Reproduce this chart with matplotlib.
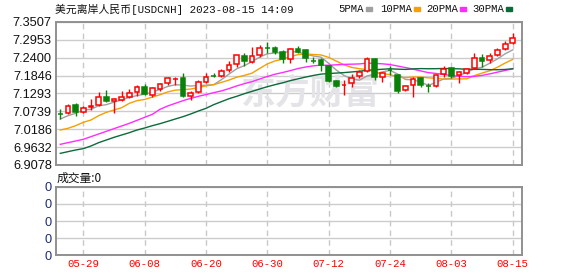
import pandas as pd
import matplotlib
matplotlib.use('Agg')
import matplotlib.pyplot as plt
from matplotlib.patches import Rectangle

plt.rcParams['font.family'] = ['Liberation Sans', 'Noto Sans CJK SC']

# 交易日 2023-05-24 ~ 2023-08-15
dates = pd.bdate_range('2023-05-24', '2023-08-15')

open_ = [7.0650, 7.0678, 7.0926, 7.0709, 7.0864, 7.0936, 7.1194, 7.1070, 7.1091, 7.1194,
         7.1329, 7.1483, 7.1246, 7.1421, 7.1607, 7.1745, 7.1762, 7.1225, 7.1349, 7.1659,
         7.1838, 7.1834, 7.2020, 7.2196, 7.2454, 7.2278, 7.2485, 7.2695, 7.2691, 7.2588,
         7.2351, 7.2660, 7.2640, 7.2312, 7.2330, 7.2144, 7.1680, 7.1552, 7.1628, 7.1834,
         7.1989, 7.2351, 7.1793, 7.2023, 7.1865, 7.1401, 7.1556, 7.1762, 7.1528, 7.1525,
         7.1896, 7.2072, 7.1865, 7.1917, 7.2072, 7.2381, 7.2330, 7.2485, 7.2660, 7.2846]
high = [7.0802, 7.0967, 7.0988, 7.0905, 7.1112, 7.1339, 7.1401, 7.1163, 7.1380, 7.1432,
        7.1545, 7.1587, 7.1483, 7.1607, 7.1814, 7.1814, 7.1938, 7.1380, 7.1710, 7.1938,
        7.1917, 7.2041, 7.2299, 7.2485, 7.2536, 7.2722, 7.2794, 7.2887, 7.2763, 7.2640,
        7.2712, 7.2763, 7.2660, 7.2433, 7.2381, 7.2175, 7.1710, 7.1710, 7.1896, 7.2020,
        7.2412, 7.2381, 7.1969, 7.2144, 7.1896, 7.1556, 7.1793, 7.1793, 7.1607, 7.1896,
        7.2144, 7.2123, 7.2000, 7.2072, 7.2557, 7.2516, 7.2536, 7.2712, 7.2929, 7.3176]
low = [7.0503, 7.0658, 7.0606, 7.0678, 7.0781, 7.0905, 7.1039, 7.0699, 7.1070, 7.1143,
       7.1215, 7.1236, 7.1194, 7.1380, 7.1556, 7.1545, 7.1194, 7.1091, 7.1318, 7.1607,
       7.1793, 7.1793, 7.1969, 7.2123, 7.2154, 7.2227, 7.2433, 7.2536, 7.2516, 7.2227,
       7.2247, 7.2536, 7.2258, 7.2227, 7.2000, 7.1659, 7.1483, 7.1246, 7.1483, 7.1762,
       7.1969, 7.1710, 7.1659, 7.1865, 7.1298, 7.1380, 7.1194, 7.1483, 7.1349, 7.1483,
       7.1793, 7.1762, 7.1607, 7.1896, 7.2041, 7.2123, 7.2227, 7.2454, 7.2640, 7.2825]
close = [7.0645, 7.0905, 7.0730, 7.0833, 7.0905, 7.1194, 7.1070, 7.1122, 7.1174, 7.1298,
         7.1483, 7.1277, 7.1452, 7.1576, 7.1762, 7.1752, 7.1225, 7.1298, 7.1659, 7.1814,
         7.1834, 7.1989, 7.2175, 7.2474, 7.2309, 7.2454, 7.2691, 7.2691, 7.2588, 7.2351,
         7.2660, 7.2567, 7.2381, 7.2309, 7.2175, 7.1690, 7.1525, 7.1556, 7.1783, 7.1969,
         7.2351, 7.1793, 7.1917, 7.2020, 7.1380, 7.1525, 7.1731, 7.1556, 7.1525, 7.1865,
         7.2041, 7.1834, 7.1969, 7.2041, 7.2381, 7.2309, 7.2454, 7.2640, 7.2825, 7.3001]

# 均线开头部分(窗口不足，直接从图上读)
ma5_head = [7.0503, 7.0606, 7.0678, 7.0781]
ma10_head = [7.0162, 7.0214, 7.0296, 7.0399, 7.0472, 7.0606, 7.0709, 7.0781, 7.0854]
ma20_head = [6.9718, 6.9770, 6.9821, 6.9873, 6.9956, 7.0038, 7.0121, 7.0203, 7.0286, 7.0368,
             7.0461, 7.0554, 7.0647, 7.0802, 7.0905, 7.0988, 7.1070, 7.1143, 7.1205]
ma30_head = [6.9439, 6.9491, 6.9543, 6.9584, 6.9667, 6.9770, 6.9852, 6.9935, 7.0007, 7.0079,
             7.0162, 7.0224, 7.0296, 7.0358, 7.0430, 7.0503, 7.0575, 7.0658, 7.0750, 7.0833,
             7.0947, 7.1039, 7.1132, 7.1205, 7.1287, 7.1359, 7.1432, 7.1504, 7.1566]

price_ticks = [6.9078, 6.9632, 7.0186, 7.0739, 7.1293, 7.1846, 7.2400, 7.2953, 7.3507]

ma_names = ['5PMA', '10PMA', '20PMA', '30PMA']
ma_colors = ['#a0a0a0', '#f5a000', '#ff2bff', '#0b6b3a']

W, H = 578, 276
fig = plt.figure(figsize=(W / 100, H / 100), dpi=100)
ax = fig.add_axes([56 / W, 1 - 165 / H, 466 / W, 143 / H])
axv = fig.add_axes([56 / W, 1 - 255.3 / H, 466 / W, 68.6 / H])

x = list(range(len(close)))
s = pd.Series(close)
mas = []
for n, head in zip([5, 10, 20, 30], [ma5_head, ma10_head, ma20_head, ma30_head]):
    m = s.rolling(n).mean()
    m.iloc[:n - 1] = head
    mas.append(m)

# 均线
for m, c in zip(mas, ma_colors):
    ax.plot(x, m, color=c, lw=1, zorder=3)

# K线
up_color = '#ff0000'
down_color = '#0a820a'
for i in x:
    o, h, l, c = open_[i], high[i], low[i], close[i]
    col = up_color if c >= o else down_color
    ax.vlines(i, l, h, color=col, lw=1, zorder=4)
    bh = max(abs(c - o), 0.0003)
    ax.bar(i, bh, bottom=min(o, c), width=0.62,
           facecolor='white' if c >= o else col, edgecolor=col, lw=1.1, zorder=5)

# 水印
ax.text(0.545, 0.5, '东方财富', transform=ax.transAxes, ha='center', va='center',
        fontsize=25, fontweight='bold', color='#e4e4e8', family=['Noto Sans CJK SC'], zorder=1)

tick_idx = list(range(3, len(dates), 8))
tick_lbl = [dates[i].strftime('%m-%d') for i in tick_idx]

for a in (ax, axv):
    a.set_xlim(-0.56, 60.2)
    a.set_xticks(tick_idx)
    a.grid(axis='x', color='#c8c8c8', ls=(0, (4, 3)), lw=1)
    a.grid(axis='y', color='#cccccc', lw=1)
    a.set_axisbelow(True)
    a.tick_params(length=0, pad=3)
    for sp in a.spines.values():
        sp.set_color('#909090')
        sp.set_linewidth(1.4)

ax.set_ylim(price_ticks[0], price_ticks[-1])
ax.set_yticks(price_ticks)
ax.set_yticklabels(['%.4f' % v for v in price_ticks], fontsize=9.2, color='#111111')
ax.set_xticklabels([])

axv.set_ylim(0, 4)
axv.set_yticks([0, 1, 2, 3, 4])
axv.set_yticklabels(['0'] * 5, fontsize=9.2, color='#1c2a78')
axv.set_xticklabels(tick_lbl, color='#ff0000', fontsize=7.7, family=['Liberation Mono'])

# 标题
fig.text(55 / W, 1 - 9 / H, '美元离岸人民币[USDCNH] 2023-08-15 14:09',
         family=['Liberation Mono', 'Noto Sans CJK SC'], fontsize=7.8, va='center', color='#111111')

# 图例
legend_x = [338, 380, 426, 472]
for name, c, lx in zip(ma_names, ma_colors, legend_x):
    fig.text(lx / W, 1 - 9 / H, name, family=['Liberation Mono'], fontsize=7.7,
             va='center', color='#111111')
    mx = lx + len(name) * 6.4 + 2
    fig.add_artist(Rectangle((mx / W, 1 - 10.5 / H), 6 / W, 3 / H,
                             transform=fig.transFigure, color=c))

fig.text(57 / W, 1 - 178 / H, '成交量:0', family=['Noto Sans CJK SC'], fontsize=8.5,
         va='center', color='#111111')

fig.savefig('out.png', dpi=100)
